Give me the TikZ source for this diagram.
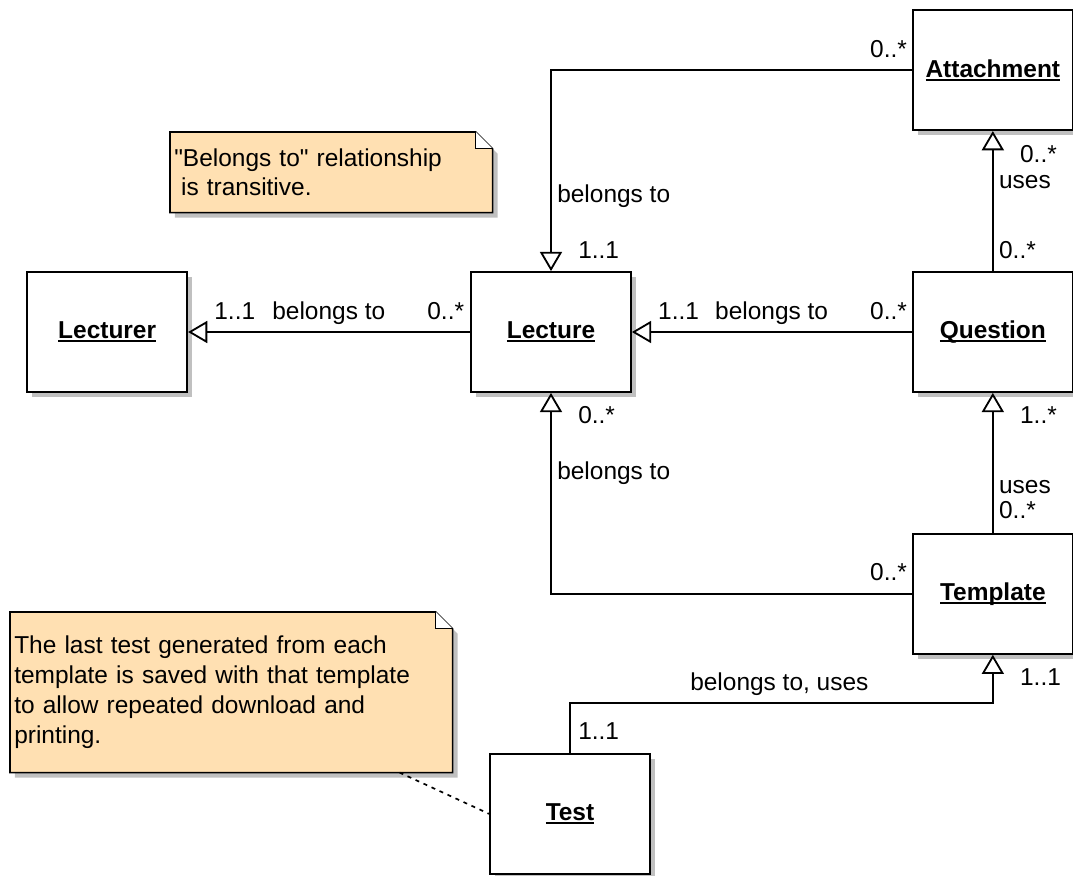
\documentclass[tikz,border=0pt]{standalone}
\usepackage{fontspec}
\setmainfont{Liberation Sans}
\usepackage{tikz}
\usetikzlibrary{positioning}
\usetikzlibrary{arrows.meta, shadows, backgrounds}

\definecolor{notefill}{RGB}{255,224,178}
\definecolor{shadowgray}{RGB}{192,192,192}

\newcommand{\umlfont}{\fontsize{17.4}{21.3}\selectfont}
\newcommand{\umlname}[1]{\setbox0\hbox{\bfseries #1}\rlap{\rule[-0.1cm]{\wd0}{0.05cm}}\box0}

% note outline with folded corner
\newcommand{\notepath}[1]{(#1.north west) -- ([xshift=-0.42cm]#1.north east) -- ([yshift=-0.42cm]#1.north east) -- (#1.south east) -- (#1.south west) -- cycle}
\newcommand{\drawnote}[1]{%
  \begin{scope}[transform canvas={shift={(0.125,-0.125)}}]
    \fill[shadowgray] \notepath{#1};
  \end{scope}
  \draw[fill=notefill, line width=1.1pt] \notepath{#1};
  \draw[fill=white, line width=0.6pt] ([xshift=-0.42cm]#1.north east) -- ([xshift=-0.42cm, yshift=-0.42cm]#1.north east) -- ([yshift=-0.42cm]#1.north east);
}

\tikzset{
  umlclass/.style={draw, line width=1.3pt, fill=white, minimum width=4cm, minimum height=3cm, inner sep=0pt,
    drop shadow={shadow xshift=0.125cm, shadow yshift=-0.125cm, fill=shadowgray, opacity=1}},
  notebox/.style={anchor=north west, align=left, inner xsep=0.1cm, inner ysep=0pt},
  lbl/.style={inner sep=0pt, anchor=base west},
  gen/.style={line width=1.3pt, -{Triangle[open, length=0.48cm, width=0.55cm]}},
  notelink/.style={line width=1.2pt, dash pattern=on 0.1cm off 0.12cm}
}

\begin{document}
\begin{tikzpicture}[font=\umlfont]
    \useasboundingbox (-13.775,8.3) rectangle (13.05,-13.575);

    % Classes
    \node[umlclass] (lecture) {\umlname{Lecture}};
    \node[umlclass, left=7.05 of lecture] (lecturer) {\umlname{Lecturer}};
    \node[umlclass, right=7 of lecture] (question) {\umlname{Question}};
    \node[umlclass, above=3.5 of question] (attachment) {\umlname{Attachment}};
    \node[umlclass, below=3.5 of question] (template) {\umlname{Template}};
    \node[umlclass, below=9 of lecture, xshift=0.475cm] (test) {\umlname{Test}};

    % Notes
    \node[notebox, text width=7.85cm, minimum height=2cm] (transitive) at (-9.525,5.0)
      {\textquotedbl Belongs to\textquotedbl{} relationship\\ \hspace*{0.17cm}is transitive.};
    \node[notebox, text width=10.85cm, minimum height=4cm] (lastnote) at (-13.525,-7.0)
      {The last test generated from each\\ template is saved with that template\\ to allow repeated download and\\ printing.};
    \begin{scope}[on background layer]
      \drawnote{transitive}
      \drawnote{lastnote}
    \end{scope}

    % Connect the nodes
    \draw[gen] (lecture) -- (lecturer);
    \draw[gen] (question) -- (lecture);
    \draw[gen] (attachment.west) -| (lecture.north);
    \draw[gen] (question) -- (attachment);
    \draw[gen] (template.west) -| (lecture.south);
    \draw[gen] (template) -- (question);
    \draw[gen] (test.north) -- ++(0,1.25) -| (template.south);
    \draw[notelink] ([xshift=-1.325cm]lastnote.south east) -- (test.west);

    % Labels
    \node[lbl] (lr1) at ([shift={(0.65,0.325)}]lecturer.east) {1..1};
    \node[lbl] (lr2) at ([shift={(2.1,0.325)}]lecturer.east) {belongs to};
    \node[lbl] (lr3) at ([shift={(-1.075,0.325)}]lecture.west) {0..*};
    \node[lbl] (ql1) at ([shift={(0.65,0.325)}]lecture.east) {1..1};
    \node[lbl] (ql2) at ([shift={(2.075,0.325)}]lecture.east) {belongs to};
    \node[lbl] (ql3) at ([shift={(-1.05,0.325)}]question.west) {0..*};
    \node[lbl] (al1) at ([shift={(-1.05,0.325)}]attachment.west) {0..*};
    \node[lbl] (al2) at ([shift={(0.15,1.725)}]lecture.north) {belongs to};
    \node[lbl] (al3) at ([shift={(0.675,0.325)}]lecture.north) {1..1};
    \node[lbl] (qa1) at ([shift={(0.675,-0.775)}]attachment.south) {0..*};
    \node[lbl] (qa2) at ([shift={(0.15,-1.425)}]attachment.south) {uses};
    \node[lbl] (qa3) at ([shift={(0.15,0.325)}]question.north) {0..*};
    \node[lbl] (tl1) at ([shift={(0.675,-0.775)}]lecture.south) {0..*};
    \node[lbl] (tl2) at ([shift={(0.15,-2.175)}]lecture.south) {belongs to};
    \node[lbl] (tl3) at ([shift={(-1.05,0.325)}]template.west) {0..*};
    \node[lbl] (tq1) at ([shift={(0.675,-0.775)}]question.south) {1..*};
    \node[lbl] (tq2) at ([shift={(0.15,-2.525)}]question.south) {uses};
    \node[lbl] (tq3) at ([shift={(0.15,0.35)}]template.north) {0..*};
    \node[lbl] (tt1) at ([shift={(0.2,0.325)}]test.north) {1..1};
    \node[lbl] (tt2) at ([shift={(3.0,1.55)}]test.north) {belongs to, uses};
    \node[lbl] (tt3) at ([shift={(0.675,-0.775)}]template.south) {1..1};
\end{tikzpicture}
\end{document}
